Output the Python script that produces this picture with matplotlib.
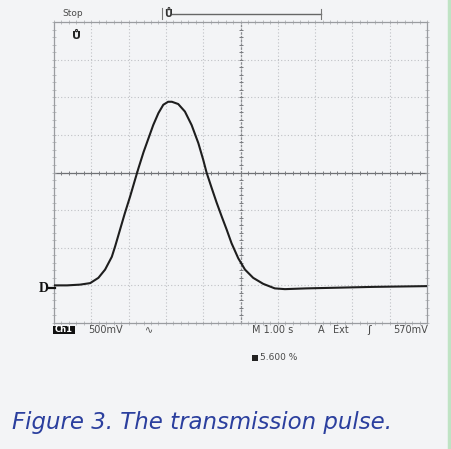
import matplotlib.pyplot as plt
import matplotlib.patches as mpatches
from matplotlib.lines import Line2D
import numpy as np

# ── Data (time in s, voltage in V) ──
time_s = [0.0, 0.35, 0.70, 0.97, 1.19, 1.37, 1.55, 1.64, 1.77, 1.90, 2.04,
          2.17, 2.26, 2.40, 2.53, 2.66, 2.80, 2.93, 3.06, 3.16, 3.33, 3.51,
          3.69, 3.87, 4.00, 4.09, 4.23, 4.36, 4.50, 4.63, 4.76, 4.94, 5.12,
          5.34, 5.61, 5.92, 6.19, 6.77, 7.67, 8.56, 10.0]
volts = [0.0, 0.0, 0.01, 0.03, 0.10, 0.21, 0.38, 0.52, 0.74, 0.96, 1.18,
         1.40, 1.55, 1.77, 1.95, 2.13, 2.29, 2.40, 2.44, 2.44, 2.41, 2.31,
         2.13, 1.89, 1.67, 1.50, 1.29, 1.10, 0.91, 0.74, 0.56, 0.36, 0.21,
         0.10, 0.02, -0.04, -0.05, -0.04, -0.03, -0.02, -0.01]

status_text = "Stop"
ch_label = "Ch1"
volts_div = "500mV"
time_div = "M 1.00 s"
trig_mode = "A"
trig_src = "Ext"
trig_level = "570mV"
trig_pos = "5.600 %"
caption = "Figure 3. The transmission pulse."

W, H = 451, 449
BG = '#f3f4f6'
TXT = '#4a4a4a'


def fx(x):
    return x / W


def fy(y):
    return 1 - y / H


fig = plt.figure(figsize=(W / 100, H / 100), dpi=100, facecolor=BG)

# ── Scope screen ──────────────────────────────────────────
ax = fig.add_axes([fx(54), fy(323), (427 - 54) / W, (323 - 22) / H])
ax.set_facecolor(BG)
ax.set_xlim(0, 10)
ax.set_ylim(-0.5, 3.5)

for xv in np.arange(1, 10):
    ax.axvline(xv, color='#bfc1c5', lw=0.8, ls=(0, (1, 2)), zorder=1)
for yv in np.arange(0, 3.5, 0.5):
    ax.axhline(yv, color='#bfc1c5', lw=0.8, ls=(0, (1, 2)), zorder=1)

# centre crosshair, a bit darker, with minor ticks
ax.axvline(5, color='#8a8c90', lw=0.9, ls=(0, (2, 1)), zorder=1)
ax.axhline(1.5, color='#6e7074', lw=0.9, zorder=1)
minor_x = np.arange(0, 10.01, 0.2)
minor_y = np.arange(-0.5, 3.51, 0.1)
ax.plot(minor_x, np.full_like(minor_x, 1.5), ls='none', marker='|',
        ms=3.5, mew=0.7, color='#7a7c80', zorder=1)
ax.plot(np.full_like(minor_y, 5), minor_y, ls='none', marker='_',
        ms=3.5, mew=0.7, color='#7a7c80', zorder=1)
# edge ticks
ax.plot(minor_x, np.full_like(minor_x, -0.5), ls='none', marker='|',
        ms=3, mew=0.5, color='#a8aaae', zorder=1, clip_on=False)
ax.plot(minor_x, np.full_like(minor_x, 3.5), ls='none', marker='|',
        ms=3, mew=0.5, color='#a8aaae', zorder=1, clip_on=False)
ax.plot(np.full_like(minor_y, 0), minor_y, ls='none', marker='_',
        ms=3, mew=0.5, color='#a8aaae', zorder=1, clip_on=False)
ax.plot(np.full_like(minor_y, 10), minor_y, ls='none', marker='_',
        ms=3, mew=0.5, color='#a8aaae', zorder=1, clip_on=False)

for s in ax.spines.values():
    s.set_color('#9a9ca0')
    s.set_linewidth(0.9)
    s.set_linestyle((0, (2, 1)))
ax.set_xticks([])
ax.set_yticks([])

# the trace
ax.plot(time_s, volts, color='#1e1e1e', lw=1.5, zorder=3,
        solid_joinstyle='round', solid_capstyle='round')

# trigger marker inside screen
ax.text(0.6, 3.38, "Ů", fontsize=8, fontweight='bold', color='#222',
        ha='center', va='top')

# ── Surrounding readouts ─────────────────────────────────
fig.text(fx(62), fy(13), status_text, fontsize=6.5, color=TXT, va='center')

# trigger position bar
fig.add_artist(Line2D([fx(162), fx(162)], [fy(8), fy(19)], color='#777', lw=0.8))
fig.add_artist(Line2D([fx(172), fx(321)], [fy(14), fy(14)], color='#666', lw=1.0))
fig.add_artist(Line2D([fx(321), fx(321)], [fy(9), fy(19)], color='#777', lw=0.8))
fig.text(fx(168), fy(14), "Ů", fontsize=7, fontweight='bold', color='#333',
         ha='center', va='center')

# ground marker
fig.text(fx(44), fy(289), "D", fontsize=10, fontweight='bold', color='#111',
         family='Liberation Serif', ha='center', va='center')
fig.add_artist(Line2D([fx(49), fx(55)], [fy(288), fy(288)], color='#111', lw=1.6))

# bottom readouts
fig.patches.append(mpatches.Rectangle((fx(53), fy(334)), 22 / W, 8 / H,
                                      transform=fig.transFigure,
                                      facecolor='#111', edgecolor='none'))
fig.text(fx(64), fy(330), ch_label, fontsize=6, fontweight='bold', color='white',
         ha='center', va='center')
fig.text(fx(88), fy(330), volts_div, fontsize=7, color=TXT, va='center')
fig.text(fx(145), fy(330), "∿", fontsize=7, color=TXT, va='center')
fig.text(fx(252), fy(330), time_div, fontsize=7, color=TXT, va='center')
fig.text(fx(318), fy(330), trig_mode, fontsize=7, color=TXT, va='center')
fig.text(fx(333), fy(330), trig_src, fontsize=7, color=TXT, va='center')
fig.text(fx(369), fy(330), "ʃ", fontsize=8, color=TXT, va='center', ha='center')
fig.text(fx(428), fy(330), trig_level, fontsize=7, color=TXT, va='center', ha='right')

fig.patches.append(mpatches.Rectangle((fx(252), fy(361)), 6 / W, 6 / H,
                                      transform=fig.transFigure,
                                      facecolor='#222', edgecolor='none'))
fig.text(fx(260), fy(358), trig_pos, fontsize=6.5, color=TXT, va='center')

# caption
fig.text(fx(12), fy(423), caption, fontsize=16.5, style='italic',
         color='#2b3f9e', va='center')

# thin green page edge at the right
fig.add_artist(Line2D([fx(449), fx(449)], [0, 1], color='#bfe3c4', lw=2.5))

fig.savefig('out.png', dpi=100, facecolor=BG)
